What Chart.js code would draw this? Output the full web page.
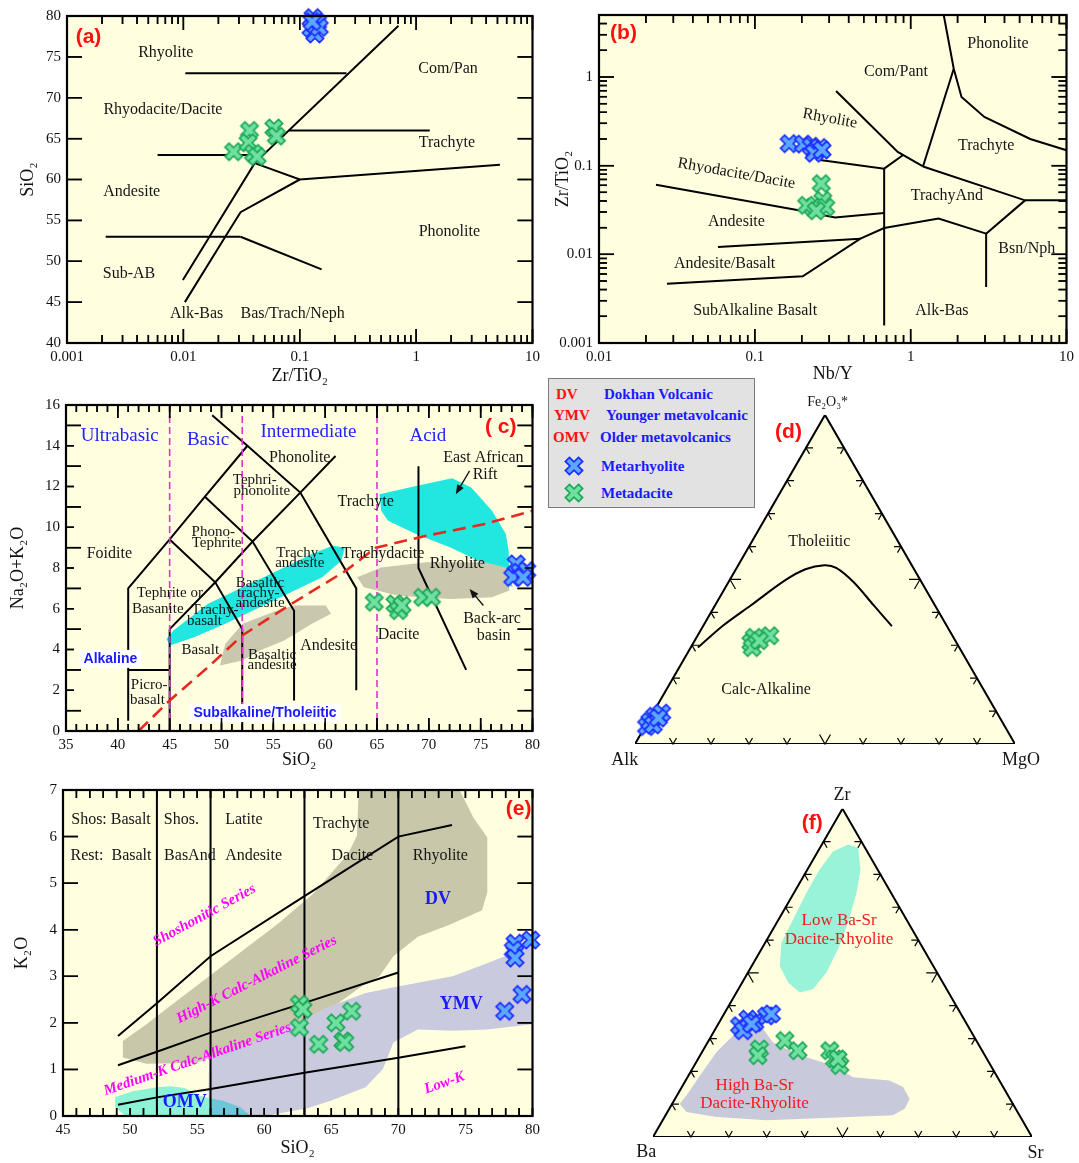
<!DOCTYPE html>
<html><head><meta charset="utf-8">
<script src="https://cdn.jsdelivr.net/npm/chart.js@4.4.0/dist/chart.umd.min.js"></script>
<style>
body{margin:0;width:1079px;height:1163px;background:#fff;position:relative;overflow:hidden;font-family:"Liberation Serif",serif}
canvas.p{position:absolute}
canvas.ov{position:absolute;z-index:5;pointer-events:none}
#legend{position:absolute;left:548px;top:378px;width:207px;height:130px;background:#e2e2e2;border:1.5px solid #7a7a7a;box-sizing:border-box;z-index:10;font:bold 15px "Liberation Serif",serif}
#legend div{position:absolute;white-space:nowrap;line-height:18px}
.r{color:#ff1010}.b{color:#1a1aff}
#legend canvas{position:absolute}
</style></head><body>
<canvas id="ca" class="p" style="left:0;top:0" width="545" height="388"></canvas>
<canvas id="cb" class="p" style="left:545px;top:0" width="534" height="388"></canvas>
<canvas id="cc" class="p" style="left:0;top:390px" width="545" height="385"></canvas>
<canvas id="cd" class="p" style="left:560px;top:390px" width="519" height="385"></canvas>
<canvas id="ce" class="p" style="left:0;top:775px" width="545" height="388"></canvas>
<canvas id="cf" class="p" style="left:600px;top:780px" width="479" height="383"></canvas>
<canvas id="oa" class="ov" style="left:0;top:0" width="545" height="388"></canvas>
<canvas id="ob" class="ov" style="left:545px;top:0" width="534" height="388"></canvas>
<canvas id="oc" class="ov" style="left:0;top:390px" width="545" height="385"></canvas>
<canvas id="oe" class="ov" style="left:0;top:775px" width="545" height="388"></canvas>
<div id="legend">
 <div class="r" style="left:7px;top:6px">DV</div><div class="b" style="left:55px;top:6px">Dokhan Volcanic</div>
 <div class="r" style="left:5px;top:27px">YMV</div><div class="b" style="left:57px;top:27px">Younger metavolcanic</div>
 <div class="r" style="left:4px;top:49px">OMV</div><div class="b" style="left:51px;top:49px">Older metavolcanics</div>
 <canvas id="lg1" width="22" height="22" style="left:14px;top:76px"></canvas><div class="b" style="left:52px;top:78px">Metarhyolite</div>
 <canvas id="lg2" width="22" height="22" style="left:14px;top:103px"></canvas><div class="b" style="left:52px;top:105px">Metadacite</div>
</div>
<script>
// ---------------- DATA ----------------
// (a) SiO2 vs Zr/TiO2
const aTicksX = [0.001, 0.01, 0.1, 1, 10];
const aTickLabelsX = ['0.001', '0.01', '0.1', '1', '10'];
const aTicksY = [40, 45, 50, 55, 60, 65, 70, 75, 80];
const aBlue = [[0.130,79.8],[0.142,79.2],[0.125,78.5],[0.135,77.8],[0.147,78.6],[0.128,79.3]];
const aGreen = [[0.027,63.4],[0.037,66.0],[0.036,64.5],[0.040,63.2],[0.043,62.8],[0.060,66.3],[0.063,65.3]];
const aLines = [
  [[0.0104,73],[0.252,73]],
  [[0.0099,47.7],[0.041,62],[0.705,78.8]],
  [[0.006,63],[0.048,63]],
  [[0.081,66],[1.31,66]],
  [[0.041,62],[0.1,60],[5.25,61.8]],
  [[0.0103,45],[0.0229,53],[0.031,56],[0.1,60]],
  [[0.00215,53],[0.031,53]],
  [[0.031,53],[0.154,49]]
];
const aLabels = [
  ['(a)',0.00153,77.4,'panel'],['Rhyolite',0.00705,75.5],['Com/Pan',1.88,73.5],['Rhyodacite/Dacite',0.00667,68.5],
  ['Trachyte',1.84,64.45],['Andesite',0.0036,58.55],['Phonolite',1.93,53.55],['Sub-AB',0.00341,48.46],
  ['Alk-Bas',0.013,43.58],['Bas/Trach/Neph',0.087,43.58]
];
// (b) Zr/TiO2 vs Nb/Y
const bTicksX = [0.01, 0.1, 1, 10];
const bTickLabelsX = ['0.01', '0.1', '1', '10'];
const bTicksY = [0.001, 0.01, 0.1, 1];
const bTickLabelsY = ['0.001', '0.01', '0.1', '1'];
const bBlue = [[0.166,0.177],[0.205,0.175],[0.23,0.165],[0.245,0.145],[0.26,0.16],[0.24,0.138],[0.27,0.15]];
const bGreen = [[0.267,0.0627],[0.273,0.0406],[0.236,0.034],[0.215,0.0357],[0.285,0.034],[0.248,0.031]];
const bLines = [
  [[1.63,5],[1.89,1.24],[2.12,0.594],[2.97,0.354],[5.85,0.20],[10,0.149]],
  [[1.89,1.24],[1.2,0.098]],
  [[0.332,0.695],[0.826,0.1426],[1.2,0.098]],
  [[1.2,0.098],[5.42,0.0406],[10,0.0406]],
  [[5.42,0.0406],[3.05,0.0171],[3.05,0.00428]],
  [[3.05,0.0171],[1.51,0.0253],[0.676,0.0198],[0.476,0.015],[0.203,0.00565],[0.0273,0.00467]],
  [[0.058,0.0121],[0.476,0.015]],
  [[0.676,0.0925],[0.676,0.00158]],
  [[0.248,0.117],[0.676,0.0925],[0.89,0.131]],
  [[0.0232,0.061],[0.203,0.0308],[0.327,0.026],[0.676,0.0292]]
];
const bLabels = [
  ['(b)',0.01436,3.08,'panel'],['Phonolite',3.63,2.34],['Com/Pant',0.805,1.14],['Rhyolite',0.303,0.339,'reg',10.3],
  ['Trachyte',3.05,0.1695],['Rhyodacite/Dacite',0.0762,0.0813,'reg',10.2],['TrachyAnd',1.71,0.0463],
  ['Andesite',0.0762,0.0232],['Bsn/Nph',5.56,0.0116],['Andesite/Basalt',0.064,0.00785],
  ['SubAlkaline Basalt',0.1005,0.00233],['Alk-Bas',1.585,0.00233]
];
// (c) TAS
const cTicksX = [35, 40, 45, 50, 55, 60, 65, 70, 75, 80];
const cTicksY = [0, 2, 4, 6, 8, 10, 12, 14, 16];
const cBlue = [[78.43,8.2],[78.77,7.79],[79.44,7.87],[78.1,7.54],[79.1,7.54]];
const cGreen = [[64.74,6.32],[66.74,6.24],[67.08,5.91],[67.41,6.16],[69.41,6.56],[70.25,6.56]];
const cLines = [
  [[41,0.5],[41,7],[45,9.4],[48.4,11.5],[52.5,14]],
  [[49.1,15.5],[52.5,14],[57.6,11.7],[63,7],[63,2]],
  [[41,3],[45,3]],
  [[45,0],[45,5]],
  [[45,5],[49.4,7.3],[53,9.3],[57.6,11.7],[61,13.5]],
  [[45,9.4],[49.4,7.3],[52,5],[52,0]],
  [[48.4,11.5],[53,9.3],[57,5.9],[57,1.5]],
  [[69,13],[69,8],[73.6,3]]
];
const cDivides = [[[45,0],[45,16]],[[52,0],[52,16]],[[65,0],[65,16]]];
const cIrvine = [[42,0],[45,1.5],[48.7,3.13],[52,4.69],[57,6.32],[62,7.87],[64.9,9.0],[69.75,9.58],[75.4,10.16],[80,10.81]];
const cRiftLow = [[44.69,4.52],[45.36,4.93],[48.7,6.24],[52.04,7.05],[55.38,7.87],[58.72,8.69],[60.73,9.09],[61.9,9.01],[61.56,8.36],[59.72,7.54],[57.05,6.89],[53.71,6.07],[50.37,5.26],[47.36,4.6],[45.02,4.2]];
const cRiftHigh = [[65.24,11.62],[68.75,12.03],[72.25,12.41],[74.09,11.95],[76.1,10.81],[77.43,9.67],[77.7,8.85],[77.77,7.54],[78.1,7.05],[77.1,7.38],[75.43,8.2],[72.09,9.01],[68.75,9.67],[66.07,10.32],[65.4,10.81]];
const cBackArc = [[63.07,7.54],[65.4,8.03],[69.75,8.28],[75.43,8.28],[77.43,8.03],[77.77,6.89],[76.1,6.56],[72.09,6.48],[67.08,6.64],[63.73,7.05]];
const cBackArcLow = [[50.03,3.62],[50.37,4.28],[52.04,5.26],[55.38,5.91],[57.05,6.16],[60.06,6.16],[60.56,5.75],[58.72,5.26],[56.05,4.44],[53.71,3.95],[52.04,3.46],[49.87,3.22]];
const cArrows = [[73.93,12.77,72.6,11.62],[75.26,6.16,73.93,6.97]];
const cLabels = [
  ['Ultrabasic',40.18,14.48,'blueBig'],['Basic',48.7,14.27,'blueBig'],['Intermediate',58.39,14.69,'blueBig'],['Acid',69.91,14.48,'blueBig'],
  ['( c)',76.93,14.89,'panel'],['East African',75.26,13.42],['Rift',75.43,12.57],['Phonolite',57.55,13.42],
  ['Tephri-',53.21,12.31,'sm'],['phonolite',53.88,11.79,'sm'],['Trachyte',63.9,11.27],['Phono-',49.2,9.75,'sm'],['Tephrite',49.53,9.21,'sm'],
  ['Foidite',39.18,8.72],['Trachy-',57.55,8.72,'sm'],['andesite',57.55,8.23,'sm'],['Trachydacite',65.57,8.72],['Rhyolite',72.75,8.23],
  ['Basaltic',53.71,7.25,'sm'],['trachy-',53.54,6.76,'sm'],['andesite',53.71,6.27,'sm'],['Tephrite or',45.02,6.76,'sm'],['Basanite',43.85,5.99,'sm'],
  ['Trachy-',49.37,5.94,'sm'],['basalt',48.36,5.42,'sm'],['Back-arc',76.1,5.53],['basin',76.26,4.65],['Dacite',67.08,4.73],
  ['Andesite',60.33,4.2],['Basalt',47.96,3.98,'sm'],['Basaltic',54.88,3.71,'sm'],['andesite',54.88,3.22,'sm'],
  ['Alkaline',39.28,3.54,'blueSans'],['Picro-',43.02,2.24,'sm'],['basalt',42.85,1.5,'sm'],['Subalkaline/Tholeiitic',54.2,0.88,'blueSans']
];
// (d) AFM ternary, rows are [Alk, Fe2O3*, MgO]
const dBlue = [[94.3,5.3,0.4],[90.6,8.4,1.0],[88.3,9.4,2.3],[92.7,6.8,0.5],[92.3,5.8,1.9],[89.9,7.9,2.2]];
const dGreen = [[54.1,30.8,15.1],[48.1,32.9,19.0],[52.4,32.4,15.2],[54.5,29.3,16.2],[51.6,31.4,17.0]];
const dBoundary = [[68.8,29.3,1.9],[58.8,36.0,5.2],[48.5,42.1,9.4],[35.7,49.7,14.6],[28.6,53.1,18.3],[23.0,54.3,22.7],[20.3,53.5,26.2],[17.9,49.2,32.9],[16.1,42.1,41.8],[14.5,35.8,49.7]];
const dLabels = [['Tholeiitic',0.485,0.532],['Calc-Alkaline',0.345,0.143],['(d)',0.404,0.82,'panel'],['Fe₂O₃*',0.507,0.90,'vsm'],['Alk',-0.027,-0.042,'vert'],['MgO',1.016,-0.042,'vert']];
// (e) K2O vs SiO2
const eTicksX = [45, 50, 55, 60, 65, 70, 75, 80];
const eTicksY = [0, 1, 2, 3, 4, 5, 6, 7];
const eBlue = [[78.7,3.71],[78.57,3.57],[78.7,3.39],[79.87,3.78],[79.22,2.61],[77.93,2.25]];
const eGreen = [[62.63,2.40],[62.89,2.29],[62.63,1.90],[64.06,1.54],[65.35,2.00],[66.52,2.25],[65.87,1.61],[66.0,1.58]];
const eLines = [
  [[52,0],[52,7]],[[56,0],[56,7]],[[63,0],[63,7]],[[70,0],[70,7]],
  [[49.1,1.72],[52,2.42],[56,3.43],[63,4.72],[70,6.0],[74,6.25]],
  [[49.1,1.09],[52,1.38],[56,1.79],[63,2.43],[70,3.08]],
  [[49.1,0.24],[52,0.40],[56,0.58],[63,0.93],[70,1.25],[75,1.5]]
];
const eDV = [[49.41,1.26],[49.46,1.61],[51.22,1.97],[53.3,2.43],[56.02,3.03],[58.48,3.57],[61.07,4.14],[63.67,4.78],[66.26,5.63],[66.91,6.02],[67.04,7],[74.56,7],[75.59,6.41],[76.63,5.98],[76.63,4.81],[76.24,4.42],[73.78,4.1],[71.45,3.85],[69.63,3.43],[68.59,3.0],[67.3,2.79],[65.22,2.36],[63.15,2.0],[61.07,1.79],[58.48,1.51],[56.41,1.29],[54.85,1.14],[51.22,1.12]];
const eYMV = [[55.89,1.26],[56.93,1.36],[59.0,1.58],[62.37,2.0],[64.96,2.36],[67.56,2.64],[70.15,2.79],[74.04,3.0],[76.63,3.28],[80,3.67],[80,1.97],[76.63,1.86],[74.04,1.83],[71.45,1.86],[69.63,1.58],[68.85,1.01],[67.56,0.62],[64.96,0.33],[63.15,0.16],[60.04,0],[56.41,0],[55.84,0.23]];
const eOMV = [[48.89,0.41],[50.19,0.53],[52.0,0.62],[53.04,0.64],[54.07,0.6],[55.11,0.44],[55.9,0.38],[55.9,0],[49.67,0],[48.89,0.19]];
const eOMVoverlap = [[55.9,0.38],[56.93,0.33],[58.22,0.19],[59.0,0],[55.9,0]];
const eLabels = [
  ['Shos: Basalt',48.58,6.35],['Shos.',53.82,6.35],['Latite',58.48,6.35],['Trachyte',65.74,6.28],
  ['Rest:  Basalt',48.58,5.59],['BasAnd',54.46,5.59],['Andesite',59.21,5.59],['Dacite',66.57,5.59],['Rhyolite',73.13,5.59],
  ['DV',72.95,4.65,'blueBold'],['YMV',74.69,2.40,'blueBold'],['OMV',54.07,0.30,'blueBold'],
  ['Low-K',73.44,0.71,'mag',-19],['Shoshonitic Series',55.55,4.31,'mag',-28.7],
  ['High-K Calc-Alkaline Series',59.44,2.93,'mag',-26.9],['Medium-K Calc-Alkaline Series',55.03,1.22,'mag',-19.1],
  ['(e)',78.96,6.59,'panel']
];
// (f) Zr-Ba-Sr ternary, rows are [Ba, Zr, Sr]
const fBlue = [[60.2,33.9,5.9],[57.0,35.9,7.1],[55.7,34.9,9.4],[51.6,36.9,11.5],[50.0,37.5,12.5],[60.0,32.4,7.6],[56.8,34.4,8.8]];
const fGreen = [[58.5,26.8,14.7],[59.9,24.8,15.3],[50.5,29.4,20.1],[48.6,26.3,25.1],[40.2,26.3,33.5],[40.2,23.8,36.0],[39.8,21.8,38.4],[39.3,23.8,36.9]];
const fLowBaSr = [[9.0,87.0,4.0],[4.0,89.1,6.9],[1.8,88.1,10.1],[4.5,81.5,14.0],[9.1,74.4,16.5],[15.9,65.3,18.8],[22.6,57.2,20.2],[29.2,50.1,20.7],[35.3,45.0,19.7],[39.3,44.0,16.7],[40.8,47.1,12.1],[40.5,52.1,7.4],[36.5,59.2,4.3],[29.9,66.3,3.8],[22.3,74.4,3.3],[15.3,81.5,3.2]];
const fHighBaSr = [[87.9,10.1,2.0],[84.8,12.7,2.5],[78.3,18.7,3.0],[70.4,25.8,3.8],[63.4,30.9,5.7],[59.2,32.4,8.4],[54.5,32.9,12.6],[53.9,28.9,17.2],[51.4,26.8,21.8],[47.4,24.3,28.3],[41.6,21.8,36.6],[38.1,18.2,43.7],[29.0,17.2,53.8],[26.4,15.2,58.4],[26.5,11.6,61.9],[29.3,8.6,62.1],[33.4,6.6,60.0],[45.0,6.1,48.9],[67.5,5.1,27.4],[80.2,6.1,13.7],[87.4,7.6,5.0]];
const fLabels = [['Zr',0.4987,0.903,'vert'],['(f)',0.42,0.828,'panel'],['Low Ba-Sr',0.491,0.57,'red'],['Dacite-Rhyolite',0.491,0.521,'red'],
  ['High Ba-Sr',0.268,0.136,'red'],['Dacite-Rhyolite',0.268,0.0877,'red'],['Ba',-0.0176,-0.039,'vert'],['Sr',1.009,-0.044,'vert']];

// ---------------- RENDERING ----------------
const SERIF = '"Liberation Serif","Times New Roman",serif';
const SANS = '"Liberation Sans",Arial,sans-serif';
const H = Math.sqrt(3) / 2;
const BG = '#ffffe0';
const STY = {
  reg: {font: '16px ' + SERIF, color: '#151515'},
  sm: {font: '15px ' + SERIF, color: '#151515'},
  vsm: {font: '14px ' + SERIF, color: '#151515'},
  vert: {font: '18px ' + SERIF, color: '#151515'},
  panel: {font: 'bold 21px ' + SANS, color: '#ff1010'},
  blueBig: {font: '19px ' + SERIF, color: '#2222ff'},
  blueSans: {font: 'bold 14px ' + SANS, color: '#1a1aff', bg: '#ffffff'},
  blueBold: {font: 'bold 18px ' + SERIF, color: '#1a1aff'},
  mag: {font: 'italic bold 15px ' + SERIF, color: '#ff00ff'},
  red: {font: '17px ' + SERIF, color: '#ee1c1c'}
};
const PANEL = {};

function makeMarker(fill, stroke) {
  const s = 22, c = document.createElement('canvas');
  c.width = c.height = s;
  const g = c.getContext('2d');
  const L = 9.3, w = 2.9;
  const pts = [[-w,-L],[w,-L],[w,-w],[L,-w],[L,w],[w,w],[w,L],[-w,L],[-w,w],[-L,w],[-L,-w],[-w,-w]];
  g.translate(s / 2, s / 2); g.rotate(Math.PI / 4);
  g.beginPath(); pts.forEach(([x, y], i) => i ? g.lineTo(x, y) : g.moveTo(x, y)); g.closePath();
  g.fillStyle = fill; g.fill(); g.lineWidth = 1.7; g.strokeStyle = stroke; g.stroke();
  return c;
}
const MB = makeMarker('#5aa8ff', '#1f2cff');
const MG = makeMarker('#6fe0a0', '#1ea85a');
document.getElementById('lg1').getContext('2d').drawImage(MB, 0, 0);
document.getElementById('lg2').getContext('2d').drawImage(MG, 0, 0);

const xy = a => a.map(([x, y]) => ({x, y}));
const ternD = a => a.map(([al, fe, mg]) => ({x: (mg + fe / 2) / 100, y: fe / 100 * H}));
const ternF = a => a.map(([ba, zr, sr]) => ({x: (sr + zr / 2) / 100, y: zr / 100 * H}));

function markers(data, img) {
  return {data, pointStyle: img, pointRadius: 6, showLine: false, clip: false};
}
function line(data, o) {
  return Object.assign({data, showLine: true, pointRadius: 0, borderColor: '#000', borderWidth: 2, fill: false, tension: 0}, o || {});
}
function poly(data, color) {
  return {data, showLine: true, pointRadius: 0, borderWidth: 0, borderColor: 'rgba(0,0,0,0)', backgroundColor: color, fill: 'shape', tension: 0};
}
function logMinors(lo, hi) {
  const r = [];
  for (let d = lo; d < hi; d *= 10) for (let k = 2; k <= 9; k++) { const v = k * d; if (v < hi * 1.0001) r.push(v); }
  return r;
}
function range(a, b, s) { const r = []; for (let v = a; v <= b + 1e-9; v += s) r.push(v); return r; }

function drawLabels(chart, labels) {
  const {ctx, scales: {x, y}} = chart;
  labels.forEach(([t, vx, vy, sk, rot]) => {
    const st = STY[sk || 'reg'];
    ctx.save();
    ctx.translate(x.getPixelForValue(vx), y.getPixelForValue(vy));
    if (rot) ctx.rotate(rot * Math.PI / 180);
    ctx.font = st.font; ctx.textAlign = 'center'; ctx.textBaseline = 'middle';
    if (st.bg) { const w = ctx.measureText(t).width; ctx.fillStyle = st.bg; ctx.fillRect(-w / 2 - 4, -9, w + 8, 18); }
    ctx.fillStyle = st.color; ctx.fillText(t, 0, 0);
    ctx.restore();
  });
}
function drawArrows(chart, arrows) {
  const {ctx, scales: {x, y}} = chart;
  ctx.save(); ctx.strokeStyle = '#111'; ctx.fillStyle = '#111'; ctx.lineWidth = 1.3;
  arrows.forEach(([x1, y1, x2, y2]) => {
    const ax = x.getPixelForValue(x1), ay = y.getPixelForValue(y1), bx = x.getPixelForValue(x2), by = y.getPixelForValue(y2);
    const an = Math.atan2(by - ay, bx - ax);
    ctx.beginPath(); ctx.moveTo(ax, ay); ctx.lineTo(bx - 6 * Math.cos(an), by - 6 * Math.sin(an)); ctx.stroke();
    ctx.beginPath(); ctx.moveTo(bx, by);
    ctx.lineTo(bx - 10 * Math.cos(an - 0.38), by - 10 * Math.sin(an - 0.38));
    ctx.lineTo(bx - 10 * Math.cos(an + 0.38), by - 10 * Math.sin(an + 0.38));
    ctx.closePath(); ctx.fill();
  });
  ctx.restore();
}
// list of inward tick segments in pixel space, from the chart's own scales
function tickSegments(chart, t) {
  const a = chart.chartArea, x = chart.scales.x, y = chart.scales.y, segs = [];
  (t.xMaj || []).forEach(v => { const p = x.getPixelForValue(v); segs.push([p, a.bottom, p, a.bottom - t.xMajL], [p, a.top, p, a.top + t.xMajL]); });
  (t.xMin || []).forEach(v => { const p = x.getPixelForValue(v); segs.push([p, a.bottom, p, a.bottom - t.xMinL], [p, a.top, p, a.top + t.xMinL]); });
  (t.yMaj || []).forEach(v => { const p = y.getPixelForValue(v); segs.push([a.left, p, a.left + t.yMajL, p], [a.right, p, a.right - t.yMajL, p]); });
  (t.yMin || []).forEach(v => { const p = y.getPixelForValue(v); segs.push([a.left, p, a.left + t.yMinL, p], [a.right, p, a.right - t.yMinL, p]); });
  return segs;
}
function drawFrameTicks(chart, ovId, t) {
  const a = chart.chartArea, x = chart.scales.x, y = chart.scales.y;
  const segs = tickSegments(chart, t);
  // ticks as one Chart.js line dataset (gaps between segments)
  const pts = [];
  segs.forEach(([x1, y1, x2, y2]) => {
    pts.push({x: x.getValueForPixel(x1), y: y.getValueForPixel(y1)}, {x: x.getValueForPixel(x2), y: y.getValueForPixel(y2)}, {x: x.getValueForPixel(x2), y: null});
  });
  chart.data.datasets.splice(2, 0, {data: pts, showLine: true, spanGaps: false, pointRadius: 0, borderColor: '#000', borderWidth: 1.5, fill: false, tension: 0, clip: false});
  chart.update();
  // frame + ticks again on a transparent overlay canvas
  const ctx = document.getElementById(ovId).getContext('2d');
  ctx.fillStyle = '#000';
  segs.forEach(([x1, y1, x2, y2]) => {
    const l = Math.min(x1, x2), tp = Math.min(y1, y2);
    ctx.fillRect(x1 === x2 ? l - 0.75 : l, y1 === y2 ? tp - 0.75 : tp, x1 === x2 ? 1.5 : Math.abs(x2 - x1), y1 === y2 ? 1.5 : Math.abs(y2 - y1));
  });
  ctx.lineWidth = 2.2; ctx.strokeStyle = '#000'; ctx.strokeRect(a.left, a.top, a.right - a.left, a.bottom - a.top);
}
function drawTernTicks(chart) {
  const {ctx, scales: {x, y}} = chart;
  const P = [[0, 0], [1, 0], [0.5, H]].map(([u, v]) => [x.getPixelForValue(u), y.getPixelForValue(v)]);
  const unit = (p, q) => { const dx = q[0] - p[0], dy = q[1] - p[1], l = Math.hypot(dx, dy); return [dx / l, dy / l]; };
  ctx.save(); ctx.strokeStyle = '#000'; ctx.lineWidth = 1.2; ctx.beginPath();
  [[0, 1, 2], [0, 2, 1], [1, 2, 0]].forEach(([i, j, k]) => {
    const A = P[i], B = P[j], C = P[k];
    const u1 = unit(A, C), u2 = unit(B, C);
    for (let n = 1; n <= 9; n++) {
      const tt = n / 10, L = n === 5 ? 11 : 7;
      const px = A[0] + (B[0] - A[0]) * tt, py = A[1] + (B[1] - A[1]) * tt;
      ctx.moveTo(px + u1[0] * L, py + u1[1] * L); ctx.lineTo(px, py); ctx.lineTo(px + u2[0] * L, py + u2[1] * L);
    }
  });
  ctx.stroke(); ctx.restore();
}
const panelPlugin = {
  id: 'panelDeco',
  beforeDatasetsDraw(chart) {
    const o = PANEL[chart.canvas.id];
    if (o && o.bg) { const a = chart.chartArea; chart.ctx.save(); chart.ctx.fillStyle = o.bg; chart.ctx.fillRect(a.left, a.top, a.right - a.left, a.bottom - a.top); chart.ctx.restore(); }
  },
  afterDatasetDraw(chart, args) {
    const o = PANEL[chart.canvas.id];
    if (!o || args.index !== 2) return;
    if (o.tern) drawTernTicks(chart);
    if (o.arrows) drawArrows(chart, o.arrows);
    if (o.labels) drawLabels(chart, o.labels);
  }
};
Chart.register(panelPlugin);

function axis(type, min, max, ticks, labels, size, vertical, title, tpad) {
  return {
    type, min, max,
    afterBuildTicks: s => { s.ticks = ticks.map(v => ({value: v})); },
    afterFit: s => { if (vertical) s.width = size; else s.height = size; },
    grid: {display: false, drawTicks: false},
    border: {display: false},
    ticks: {autoSkip: false, maxRotation: 0, minRotation: 0, padding: vertical ? 6 : 5, color: '#111', font: {family: SERIF, size: 15},
      callback: (v, i) => labels[i]},
    title: {display: true, text: title, color: '#111', font: {family: SERIF, size: 18}, padding: tpad}
  };
}
function xyChart(id, ovId, pad, xs, ys, datasets, deco) {
  PANEL[id] = deco;
  const ch = new Chart(document.getElementById(id), {
    type: 'scatter',
    data: {datasets},
    options: {
      responsive: false, animation: false, events: [], devicePixelRatio: 1,
      layout: {padding: pad},
      scales: {x: xs, y: ys},
      plugins: {legend: {display: false}, tooltip: {enabled: false}}
    }
  });
  drawFrameTicks(ch, ovId, deco.tk);
  return ch;
}
const str = a => a.map(v => String(v));

// (a)
xyChart('ca', 'oa', {top: 16, right: 8, left: 0, bottom: 0},
  axis('logarithmic', 0.001, 10, aTicksX, aTickLabelsX, 45, false, 'Zr/TiO₂', {top: 0, bottom: 1}),
  axis('linear', 40, 80, aTicksY, str(aTicksY), 67, true, 'SiO₂', {top: 17, bottom: 0}),
  [markers(xy(aBlue), MB), markers(xy(aGreen), MG), ...aLines.map(l => line(xy(l)))],
  {bg: BG, labels: aLabels, tk: {xMaj: aTicksX, xMajL: 14, xMin: logMinors(0.001, 10), xMinL: 8, yMaj: aTicksY, yMajL: 15, yMin: [], yMinL: 0}});

// (b)
xyChart('cb', 'ob', {top: 15, right: 8, left: 0, bottom: 0},
  axis('logarithmic', 0.01, 10, bTicksX, bTickLabelsX, 45, false, 'Nb/Y', {top: 0, bottom: 3}),
  axis('logarithmic', 0.001, 5, bTicksY, bTickLabelsY, 54, true, 'Zr/TiO₂', {top: 7, bottom: 0}),
  [markers(xy(bBlue), MB), markers(xy(bGreen), MG), ...bLines.map(l => line(xy(l)))],
  {bg: BG, labels: bLabels, tk: {xMaj: bTicksX, xMajL: 14, xMin: logMinors(0.01, 10), xMinL: 8, yMaj: bTicksY, yMajL: 15, yMin: logMinors(0.001, 5), yMinL: 8}});

// (c)
xyChart('cc', 'oc', {top: 14, right: 8, left: 0, bottom: 0},
  axis('linear', 35, 80, cTicksX, str(cTicksX), 44, false, 'SiO₂', {top: 0, bottom: 4}),
  axis('linear', 0, 16, cTicksY, str(cTicksY), 66, true, 'Na₂O+K₂O', {top: 7, bottom: 0}),
  [markers(xy(cBlue), MB), markers(xy(cGreen), MG),
   ...cDivides.map(l => line(xy(l), {borderColor: '#e030d0', borderWidth: 1.6, borderDash: [7, 4]})),
   line(xy(cIrvine), {borderColor: '#e8281e', borderWidth: 2.6, borderDash: [13, 7]}),
   ...cLines.map(l => line(xy(l))),
   poly(xy(cBackArcLow), '#c9c7ae'), poly(xy(cBackArc), '#c9c7ae'),
   poly(xy(cRiftLow), '#22e6e0'), poly(xy(cRiftHigh), '#22e6e0')],
  {bg: BG, labels: cLabels, arrows: cArrows, tk: {xMaj: range(35, 80, 5), xMajL: 13, xMin: range(35, 80, 1), xMinL: 7, yMaj: range(1, 15, 2), yMajL: 15, yMin: range(0, 16, 2), yMinL: 8}});

// (e)
xyChart('ce', 'oe', {top: 12, right: 12, left: 0, bottom: 0},
  axis('linear', 45, 80, eTicksX, str(eTicksX), 47, false, 'SiO₂', {top: 0, bottom: 4}),
  axis('linear', 0, 7, eTicksY, str(eTicksY), 63, true, 'K₂O', {top: 11, bottom: 0}),
  [markers(xy(eBlue), MB), markers(xy(eGreen), MG), ...eLines.map(l => line(xy(l))),
   poly(xy(eOMVoverlap), '#6cc8d8'), poly(xy(eOMV), '#8ef2d6'), poly(xy(eYMV), '#cacadf'), poly(xy(eDV), '#c8c7a9')],
  {bg: BG, labels: eLabels, tk: {xMaj: [], xMajL: 0, xMin: range(45, 80, 1), xMinL: 8, yMaj: eTicksY, yMajL: 15, yMin: [], yMinL: 0}});

// ternary charts
function ternChart(id, pad, datasets, labels) {
  PANEL[id] = {tern: true, labels};
  return new Chart(document.getElementById(id), {
    type: 'scatter',
    data: {datasets},
    options: {
      responsive: false, animation: false, events: [], devicePixelRatio: 1,
      layout: {padding: pad},
      scales: {x: {type: 'linear', min: 0, max: 1, display: false}, y: {type: 'linear', min: 0, max: H, display: false}},
      plugins: {legend: {display: false}, tooltip: {enabled: false}}
    }
  });
}
const triangle = [{x: 0, y: 0}, {x: 1, y: 0}, {x: 0.5, y: H}, {x: 0, y: 0}];
ternChart('cd', {left: 75, right: 64, top: 24.9, bottom: 31},
  [markers(ternD(dBlue), MB), markers(ternD(dGreen), MG),
   line(ternD(dBoundary), {borderWidth: 2, tension: 0.3}),
   {data: triangle, showLine: true, pointRadius: 0, borderColor: '#000', borderWidth: 2, backgroundColor: BG, fill: 'shape', tension: 0}],
  dLabels);
ternChart('cf', {left: 53, right: 47, top: 28.8, bottom: 26},
  [markers(ternF(fBlue), MB), markers(ternF(fGreen), MG),
   poly(ternF(fHighBaSr), '#c9c9dc'),
   poly(ternF(fLowBaSr), '#98f3d8'),
   {data: triangle, showLine: true, pointRadius: 0, borderColor: '#000', borderWidth: 2, backgroundColor: BG, fill: 'shape', tension: 0}],
  fLabels);
</script>
</body></html>
